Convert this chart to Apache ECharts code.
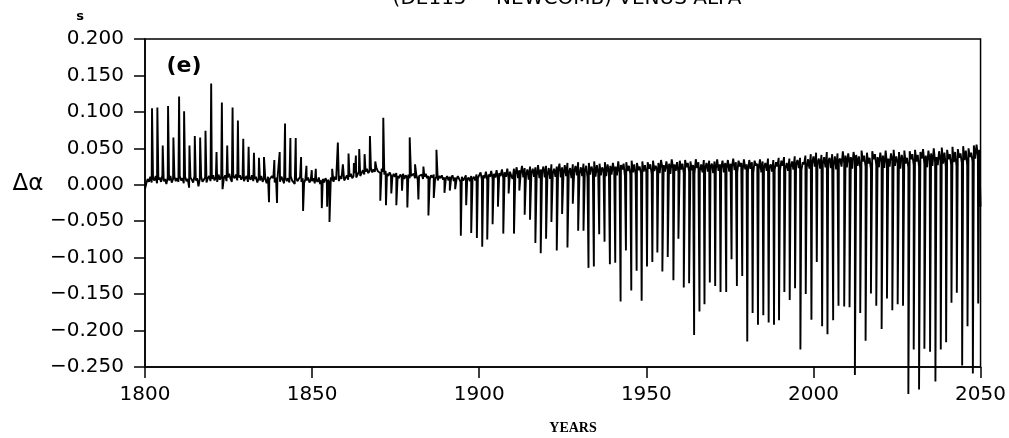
<!DOCTYPE html>
<html><head><meta charset="utf-8">
<script src="https://cdn.jsdelivr.net/npm/echarts/dist/echarts.min.js"></script>
<style>html,body{margin:0;padding:0;background:#fff}#c{width:1009px;height:438px}</style>
</head><body><div id="c"></div><script>
// ---- data ----
const xTicks = [1800, 1850, 1900, 1950, 2000, 2050];
const yTicks = [-0.25, -0.2, -0.15, -0.1, -0.05, 0, 0.05, 0.1, 0.15, 0.2];

// background band samples, every 0.4 yr from 1800.0, in units of 0.001 s
const band1800 = [
 -6,2,8,4,11, 3,9,6,12,2, 7,10,4,13,5, 8,1,10,6,12, 3,8,11,5,9,
 4,12,6,9,2, 11,5,8,-4,10, 7,3,12,6,9, -2,8,11,4,7, 10,3,9,12,5,
 8,13,6,10,4, 14,7,11,-6,9, 13,5,10,15,8, 4,12,9,14,6, 10,13,7,11,5,
 9,12,4,10,7, 13,5,8,11,3, 9,6,12,4,10, 8,2,11,7,5, 12,9,3,10,6,
 8,4,11,7,2, 10,5,9,3,12, 6,8,1,10,5, 7,11,4,9,2, 8,6,10,3,7];
const band1850 = [
 5,9,2,7,4, 10,1,6,8,3, 9,5,7,2,10, 6,4,11,7,9, 5,12,8,10,6,
 9,13,7,11,15, 9,12,16,10,14, 18,12,16,20,14, 18,22,16,19,23, 17,21,18,24,19,
 20,16,22,18,14, 19,15,12,17,13, 10,15,11,16,12, 9,14,11,15,8, 13,10,14,9,12,
 11,15,9,13,7, 12,10,14,8,11, 15,9,12,7,13, 10,14,8,11,6, 12,9,13,7,10,
 8,12,6,11,9, 13,5,10,7,12, 8,4,11,6,9, 13,7,10,5,12, 8,11,6,14,9];
const band1900 = [
 10,17,7,13,9, 18,6,14,11,19, 8,15,10,20,7, 16,12,21,9,17, 11,22,8,18,12,
 8,22,14,24,9, 20,15,26,10,23, 13,21,7,25,16, 22,11,24,12,27, 9,21,17,25,10,
 26,13,23,8,28, 15,22,11,25,18, 29,10,24,14,27, 12,30,16,23,9, 28,17,26,13,31,
 15,24,12,29,18, 26,10,30,14,25, 19,32,11,27,16, 29,13,24,20,31, 12,28,17,26,14,
 30,18,25,13,32, 16,27,21,29,12, 31,19,26,15,33, 17,28,14,30,20, 25,16,32,18,27];
const band1950 = [
 17,31,22,28,15, 33,19,26,21,30, 16,34,23,27,18, 32,20,29,15,35, 22,28,19,31,17,
 33,21,29,16,34, 24,30,18,32,20, 27,15,35,23,31, 19,28,17,34,22, 30,18,33,25,29,
 16,32,21,35,19, 28,23,33,17,30, 22,34,18,29,24, 36,20,31,17,33, 25,30,19,35,21,
 28,18,34,22,31, 16,33,26,29,20, 35,17,32,23,30, 19,36,24,28,18, 34,21,31,25,37,
 20,33,26,38,22, 30,19,36,24,32, 21,39,27,34,23, 37,20,31,28,40, 24,35,22,42,29];
const band2000 = [
 39,25,44,30,36, 22,41,28,38,24, 45,31,37,23,42, 27,39,21,43,33, 36,25,46,29,40,
 24,43,30,38,22, 45,34,41,26,39, 23,47,32,40,25, 44,29,37,21,46, 35,42,27,38,24,
 44,31,40,23,47, 28,36,25,43,34, 48,26,39,30,45, 22,41,33,47,29, 37,24,46,35,42,
 27,48,32,41,25, 45,36,49,28,40, 24,47,33,43,26, 50,31,38,27,46, 34,51,29,44,25,
 48,35,42,28,52, 31,45,26,49,37, 43,30,53,34,47, 27,50,38,44,32, 54,36,55,40,48,
 -30];

// spikes: [year, value in s]
const spikes1800 = [
 [1802.1,0.105],[1803.7,0.106],[1805.3,0.054],[1806.9,0.108],[1808.5,0.065],
 [1810.2,0.121],[1811.7,0.101],[1813.3,0.054],[1814.9,0.067],[1816.5,0.065],
 [1818.1,0.074],[1819.8,0.139],[1821.4,0.045],[1823.0,0.113],[1824.6,0.054],
 [1826.2,0.106],[1827.8,0.088],[1829.4,0.063],[1831.0,0.052],[1832.6,0.044],
 [1834.1,0.037],[1835.6,0.038],[1837.1,-0.024],[1838.7,0.034],[1839.5,-0.025],
 [1840.3,0.045],[1841.9,0.084],[1843.5,0.064],[1845.1,0.064],[1846.7,0.038],
 [1847.3,-0.036],[1848.3,0.026],[1849.9,0.020]];
const spikes1850 = [
 [1851.1,0.022],[1852.9,-0.032],[1854.5,-0.030],[1855.2,-0.051],[1856.0,0.022],
 [1857.7,0.058],[1859.2,0.028],[1860.9,0.043],[1862.5,0.030],[1863.1,0.040],
 [1864.1,0.049],[1865.7,0.042],[1867.3,0.067],[1868.9,0.032],[1870.4,-0.022],
 [1871.3,0.092],[1872.1,-0.028],[1873.7,-0.012],[1875.2,-0.028],[1876.9,-0.008],
 [1878.5,-0.031],[1879.2,0.065],[1880.8,0.028],[1881.8,-0.020],[1883.3,0.025],
 [1884.8,-0.042],[1886.4,-0.018],[1887.2,0.048],[1889.6,-0.011],[1891.2,-0.008],
 [1892.8,-0.006],[1894.5,-0.070],[1896.1,-0.028],[1897.6,-0.066],[1899.3,-0.073]];
const spikes1900 = [
 [1900.9,-0.085],[1902.4,-0.075],[1904.0,-0.054],[1905.6,-0.030],[1907.2,-0.067],
 [1908.8,-0.012],[1910.4,-0.067],[1912.0,-0.008],[1913.6,-0.041],[1915.2,-0.048],
 [1916.8,-0.080],[1918.4,-0.094],[1920.0,-0.074],[1921.6,-0.051],[1923.2,-0.090],
 [1924.8,-0.040],[1926.4,-0.086],[1928.0,-0.026],[1929.6,-0.063],[1931.2,-0.063],
 [1932.7,-0.114],[1934.3,-0.112],[1935.9,-0.068],[1937.5,-0.078],[1939.1,-0.109],
 [1940.7,-0.107],[1942.3,-0.160],[1943.9,-0.090],[1945.5,-0.145],[1947.1,-0.118],
 [1948.6,-0.159]];
const spikes1950 = [
 [1950.2,-0.112],[1951.8,-0.106],[1953.3,-0.093],[1954.8,-0.119],[1956.4,-0.099],
 [1958.1,-0.131],[1959.6,-0.074],[1961.2,-0.141],[1962.8,-0.135],[1964.3,-0.206],
 [1965.9,-0.174],[1967.4,-0.164],[1969.0,-0.134],[1970.6,-0.139],[1972.2,-0.147],
 [1973.9,-0.147],[1975.5,-0.102],[1977.1,-0.139],[1978.7,-0.125],[1980.2,-0.215],
 [1981.8,-0.176],[1983.4,-0.192],[1985.0,-0.179],[1986.6,-0.189],[1988.2,-0.192],
 [1989.7,-0.186],[1991.3,-0.147],[1992.9,-0.158],[1994.5,-0.142],[1996.1,-0.226],
 [1997.7,-0.150],[1999.4,-0.185]];
const spikes2000 = [
 [2001.0,-0.106],[2002.6,-0.194],[2004.2,-0.205],[2005.9,-0.186],[2007.5,-0.166],
 [2009.2,-0.167],[2010.8,-0.168],[2012.4,-0.261],[2014.0,-0.176],[2015.6,-0.214],
 [2017.2,-0.149],[2018.8,-0.166],[2020.4,-0.198],[2022.0,-0.156],[2023.6,-0.172],
 [2025.2,-0.164],[2026.8,-0.166],[2028.4,-0.287],[2030.0,-0.226],[2031.6,-0.281],
 [2033.2,-0.225],[2034.9,-0.229],[2036.5,-0.270],[2038.1,-0.226],[2039.7,-0.216],
 [2041.3,-0.162],[2042.9,-0.148],[2044.5,-0.248],[2046.1,-0.194],[2047.7,-0.259],
 [2049.3,-0.163]];

// ---- build series ----
const bandStart = 1800, bandStep = 0.4;
const bandAll = [].concat(band1800, band1850, band1900, band1950, band2000);
const spikesAll = [].concat(spikes1800, spikes1850, spikes1900, spikes1950, spikes2000);
const pts = bandAll.map((v, i) => [bandStart + i * bandStep, v / 1000]);
spikesAll.forEach(p => pts.push([p[0], p[1]]));
pts.sort((a, b) => a[0] - b[0]);

const FONT = 'DejaVu Sans';
const chart = echarts.init(document.getElementById('c'), null, {renderer: 'canvas'});
chart.setOption({
  animation: false,
  backgroundColor: '#fff',
  grid: {left: 145, right: 27, top: 39, bottom: 71, show: true, borderColor: '#000', borderWidth: 1.5},
  xAxis: {
    type: 'value', min: xTicks[0], max: xTicks[xTicks.length - 1], interval: 50,
    axisLine: {onZero: false, lineStyle: {color: '#000', width: 1.5}},
    axisTick: {inside: false, length: 11, lineStyle: {color: '#000', width: 1.5}},
    axisLabel: {color: '#000', fontFamily: FONT, fontSize: 20, margin: 18,
      formatter: v => String(Math.round(v))},
    splitLine: {show: false}
  },
  yAxis: {
    type: 'value', min: yTicks[0], max: yTicks[yTicks.length - 1], interval: 0.05,
    axisLine: {onZero: false, lineStyle: {color: '#000', width: 1.5}},
    axisTick: {inside: false, length: 11, lineStyle: {color: '#000', width: 1.5}},
    axisLabel: {color: '#000', fontFamily: FONT, fontSize: 20, margin: 21,
      formatter: v => (v < -1e-9 ? '\u2212' : '') + Math.abs(v).toFixed(3)},
    splitLine: {show: false}
  },
  series: [{
    type: 'line', data: pts, showSymbol: false, clip: false,
    lineStyle: {color: '#000', width: 1.9}, silent: true
  }],
  graphic: [
    {type: 'text', x: 567, y: -1, style: {text: '(DE115 \u2212 NEWCOMB) VENUS ALFA', font: '20px ' + FONT, fill: '#000', align: 'center', verticalAlign: 'middle'}},
    {type: 'text', x: 80, y: 17, style: {text: 's', font: 'bold 13px ' + FONT, fill: '#000', align: 'center', verticalAlign: 'middle'}},
    {type: 'text', x: 28, y: 184, style: {text: '\u0394\u03b1', font: '23px ' + FONT, fill: '#000', align: 'center', verticalAlign: 'middle'}},
    {type: 'text', x: 184, y: 66, style: {text: '(e)', font: 'bold 22px ' + FONT, fill: '#000', align: 'center', verticalAlign: 'middle'}},
    {type: 'text', x: 573, y: 428, style: {text: 'YEARS', font: 'bold 14px Liberation Serif', fill: '#000', align: 'center', verticalAlign: 'middle'}}
  ]
});
</script></body></html>
